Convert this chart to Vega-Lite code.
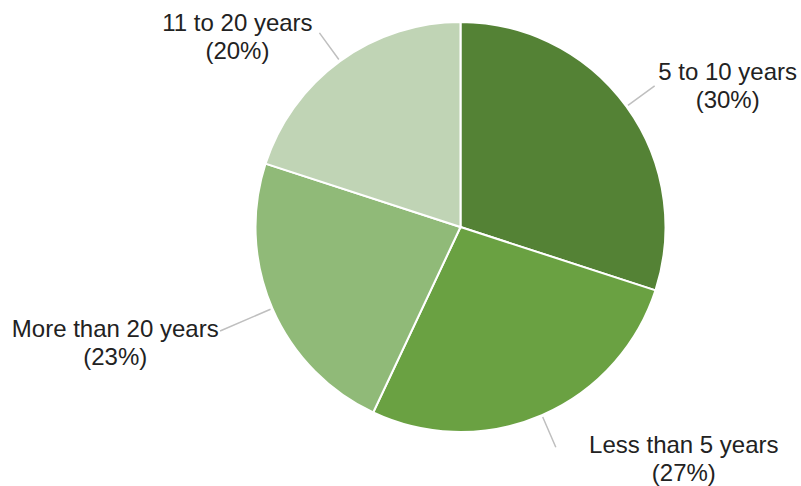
{
  "$schema": "https://vega.github.io/schema/vega-lite/v6.json",
  "autosize": "none",
  "width": 681,
  "height": 454,
  "padding": {"left": 120, "right": 0, "top": 0, "bottom": 32},
  "background": "white",
  "config": {"view": {"stroke": null}, "text": {"font": "Liberation Sans"}},
  "data": {
    "values": [
      {"category": "5 to 10 years", "value": 30, "rank": 1, "label": "5 to 10 years\n(30%)"},
      {"category": "Less than 5 years", "value": 27, "rank": 2, "label": "Less than 5 years\n(27%)"},
      {"category": "More than 20 years", "value": 23, "rank": 3, "label": "More than 20 years\n(23%)"},
      {"category": "11 to 20 years", "value": 20, "rank": 4, "label": "11 to 20 years\n(20%)"}
    ]
  },
  "transform": [
    {"stack": "value", "groupby": [], "as": ["v0", "v1"], "sort": [{"field": "rank", "order": "ascending"}]},
    {"calculate": "(datum.v0 + datum.v1) / 2", "as": "mid"}
  ],
  "layer": [
    {
      "mark": {"type": "arc", "radius": 205, "stroke": "white", "strokeWidth": 2},
      "encoding": {
        "theta": {"field": "v0", "type": "quantitative", "scale": {"domain": [0, 100]}},
        "theta2": {"field": "v1"},
        "color": {
          "field": "category", "type": "nominal", "legend": null,
          "scale": {
            "domain": ["5 to 10 years", "Less than 5 years", "More than 20 years", "11 to 20 years"],
            "range": ["#548235", "#6aa142", "#90ba78", "#c0d4b5"]
          }
        }
      }
    },
    {
      "transform": [{"filter": "datum.rank != 3"}],
      "mark": {"type": "arc", "radius": 240, "radius2": 207, "padAngle": 1.5, "fill": null, "fillOpacity": 0, "stroke": "#bfbfbf", "strokeWidth": 1.5},
      "encoding": {
        "theta": {"field": "v0", "type": "quantitative", "scale": {"domain": [0, 100]}},
        "theta2": {"field": "v1"}
      }
    },
    {
      "transform": [{"filter": "datum.rank == 3"}],
      "mark": {"type": "arc", "radius": 262, "radius2": 207, "padAngle": 1.5, "fill": null, "fillOpacity": 0, "stroke": "#bfbfbf", "strokeWidth": 1.5},
      "encoding": {
        "theta": {"field": "v0", "type": "quantitative", "scale": {"domain": [0, 100]}},
        "theta2": {"field": "v1"}
      }
    },
    {
      "transform": [{"filter": "datum.rank == 1"}],
      "mark": {"type": "text", "radius": 240, "fontSize": 24, "align": "center", "baseline": "middle", "lineBreak": "\n", "lineHeight": 28, "dx": 73, "dy": -13, "color": "#222222"},
      "encoding": {
        "theta": {"field": "mid", "type": "quantitative", "scale": {"domain": [0, 100]}},
        "text": {"field": "label"}
      }
    },
    {
      "transform": [{"filter": "datum.rank == 2"}],
      "mark": {"type": "text", "radius": 240, "fontSize": 24, "align": "center", "baseline": "middle", "lineBreak": "\n", "lineHeight": 28, "dx": 128, "dy": -1, "color": "#222222"},
      "encoding": {
        "theta": {"field": "mid", "type": "quantitative", "scale": {"domain": [0, 100]}},
        "text": {"field": "label"}
      }
    },
    {
      "transform": [{"filter": "datum.rank == 3"}],
      "mark": {"type": "text", "radius": 240, "fontSize": 24, "align": "center", "baseline": "middle", "lineBreak": "\n", "lineHeight": 28, "dx": -125, "dy": 8, "color": "#222222"},
      "encoding": {
        "theta": {"field": "mid", "type": "quantitative", "scale": {"domain": [0, 100]}},
        "text": {"field": "label"}
      }
    },
    {
      "transform": [{"filter": "datum.rank == 4"}],
      "mark": {"type": "text", "radius": 240, "fontSize": 24, "align": "center", "baseline": "middle", "lineBreak": "\n", "lineHeight": 28, "dx": -82, "dy": -9, "color": "#222222"},
      "encoding": {
        "theta": {"field": "mid", "type": "quantitative", "scale": {"domain": [0, 100]}},
        "text": {"field": "label"}
      }
    }
  ]
}
